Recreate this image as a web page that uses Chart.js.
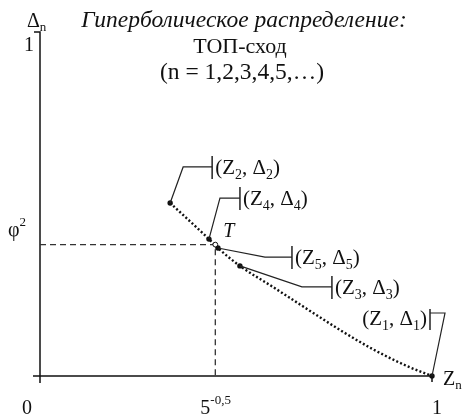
<!DOCTYPE html>
<html>
<head>
<meta charset="utf-8">
<script src="https://cdn.jsdelivr.net/npm/chart.js@4.4.0/dist/chart.umd.min.js"></script>
<style>
  html, body { margin: 0; padding: 0; background: #fff; }
  #wrap { width: 464px; height: 419px; position: relative; }
</style>
</head>
<body>
<div id="wrap"><canvas id="c"></canvas></div>
<script>
// Hyperbolic distribution Δn(Zn): points along the dotted curve
const curveZ     = [0.332, 0.431, 0.454, 0.510, 0.594, 0.681, 0.765, 0.849, 0.936, 1.000];
const curveDelta = [0.503, 0.398, 0.372, 0.320, 0.259, 0.195, 0.134, 0.078, 0.029, 0.000];

// Labelled points (Zn, Δn)
const pointIndex = ['2', '4', '5', '3', '1'];
const pointZ     = [0.332, 0.431, 0.454, 0.510, 1.000];
const pointDelta = [0.503, 0.398, 0.372, 0.320, 0.000];

// Point T: Z = 5^-0.5, Δ = φ²
const phi = (Math.sqrt(5) - 1) / 2;
const markZ = Math.pow(5, -0.5);
const markDelta = phi * phi;

// Axis tick labels
const xTickValues = [0, markZ, 1];
const xTickLabels = ['0', '5^{-0,5}', '1'];
const yTickValues = [1, markDelta];
const yTickLabels = ['1', 'φ^2'];
const xAxisTitle = 'Z_n';
const yAxisTitle = 'Δ_n';

const titleLines = ['Гиперболическое распределение:', 'ТОП-сход', '(n = 1,2,3,4,5,…)'];

// Leader-line layout for each labelled point (pixel offsets from the point)
const calloutLayout = [
  { elbow: [13, -36], bar: 42, side: 'right' },
  { elbow: [11, -41], bar: 31, side: 'right' },
  { elbow: [47, 9],   bar: 74, side: 'right' },
  { elbow: [62, 21],  bar: 92, side: 'right' },
  { elbow: [13, -63], bar: -2, side: 'left' }
];

const FAMILY = '"Liberation Serif", "Times New Roman", serif';
const INK = '#111';

// Parse "a_b" / "a^{bc}" into runs with sub/superscript flags
function parseRich(s) {
  const parts = [];
  let buf = '';
  let i = 0;
  while (i < s.length) {
    const c = s[i];
    if (c === '_' || c === '^') {
      if (buf) { parts.push({ t: buf, k: 0 }); buf = ''; }
      let t;
      if (s[i + 1] === '{') {
        const j = s.indexOf('}', i + 2);
        t = s.slice(i + 2, j);
        i = j + 1;
      } else {
        t = s[i + 1];
        i += 2;
      }
      parts.push({ t, k: c === '_' ? 1 : -1 });
    } else {
      buf += c;
      i++;
    }
  }
  if (buf) parts.push({ t: buf, k: 0 });
  return parts;
}

function drawRich(ctx, s, x, y, size, align, style) {
  const parts = parseRich(s);
  const st = style || '';
  const fontFor = p => `${st} ${p.k ? Math.round(size * 0.65) : size}px ${FAMILY}`;
  let w = 0;
  parts.forEach(p => { ctx.font = fontFor(p); p.w = ctx.measureText(p.t).width; w += p.w; });
  let cx = align === 'center' ? x - w / 2 : align === 'right' ? x - w : x;
  ctx.textAlign = 'left';
  ctx.textBaseline = 'alphabetic';
  ctx.fillStyle = INK;
  parts.forEach(p => {
    ctx.font = fontFor(p);
    const dy = p.k === 1 ? size * 0.22 : p.k === -1 ? -size * 0.5 : 0;
    ctx.fillText(p.t, cx, y + dy);
    cx += p.w;
  });
}

const axesPlugin = {
  id: 'axesPlugin',
  beforeDatasetsDraw(chart) {
    const { ctx, scales: { x, y } } = chart;
    const x0 = x.getPixelForValue(0), x1 = x.getPixelForValue(1);
    const y0 = y.getPixelForValue(0), y1 = y.getPixelForValue(1);
    ctx.save();
    ctx.strokeStyle = INK;
    ctx.lineWidth = 1.5;
    ctx.beginPath();
    // vertical axis with a small cap at Δ = 1
    ctx.moveTo(x0 - 6, y1); ctx.lineTo(x0, y1); ctx.lineTo(x0, y0 + 7);
    // horizontal axis with a tick at Z = 1
    ctx.moveTo(x0 - 7, y0); ctx.lineTo(x1, y0); ctx.lineTo(x1, y0 + 6);
    ctx.stroke();
    ctx.restore();
  },
  afterDatasetsDraw(chart) {
    const { ctx, scales: { x, y } } = chart;
    ctx.save();
    const x0 = x.getPixelForValue(0), y0 = y.getPixelForValue(0);

    // Title block
    drawRich(ctx, titleLines[0], 244, 27, 23.5, 'center', 'italic');
    drawRich(ctx, titleLines[1], 240, 53, 22, 'center');
    drawRich(ctx, titleLines[2], 242, 79, 23.5, 'center');

    // Axis titles
    drawRich(ctx, yAxisTitle, x0 - 13, 27, 20, 'left');
    drawRich(ctx, xAxisTitle, x.getPixelForValue(1) + 11, y0 + 9, 20, 'left');

    // X tick labels
    xTickValues.forEach((v, i) => {
      let px = x.getPixelForValue(v);
      if (i === 0) px -= 13;
      if (i === 2) px += 5;
      const align = i === 1 ? 'left' : 'center';
      drawRich(ctx, xTickLabels[i], i === 1 ? px - 15 : px, y0 + 38, 20, align);
    });

    // Y tick labels
    drawRich(ctx, yTickLabels[0], x0 - 11, y.getPixelForValue(yTickValues[0]) + 19, 20, 'center');
    drawRich(ctx, yTickLabels[1], x0 - 32, y.getPixelForValue(yTickValues[1]) - 9, 20, 'left');

    // T label
    drawRich(ctx, 'T', x.getPixelForValue(markZ) + 8, y.getPixelForValue(markDelta) - 8, 20, 'left', 'italic');

    // Leader lines and point labels
    ctx.strokeStyle = '#222';
    pointIndex.forEach((n, i) => {
      const L = calloutLayout[i];
      const px = x.getPixelForValue(pointZ[i]);
      const py = y.getPixelForValue(pointDelta[i]);
      const ex = px + L.elbow[0], ey = py + L.elbow[1];
      const bx = px + L.bar;
      ctx.lineWidth = 1.2;
      ctx.beginPath();
      ctx.moveTo(px, py); ctx.lineTo(ex, ey); ctx.lineTo(bx, ey);
      ctx.stroke();
      ctx.lineWidth = 1.5;
      ctx.beginPath();
      if (L.side === 'right') {
        ctx.moveTo(bx, ey - 11); ctx.lineTo(bx, ey + 12);
      } else {
        ctx.moveTo(bx, ey - 4); ctx.lineTo(bx, ey + 17);
      }
      ctx.stroke();
      const text = '(Z_' + n + ', Δ_' + n + ')';
      if (L.side === 'right') {
        drawRich(ctx, text, bx + 3, ey + 7, 21, 'left');
      } else {
        drawRich(ctx, text, bx - 3, ey + 12, 21, 'right');
      }
    });
    ctx.restore();
  }
};

new Chart(document.getElementById('c'), {
  type: 'line',
  data: {
    datasets: [
      {
        label: 'T',
        data: [{ x: markZ, y: markDelta }],
        showLine: false,
        pointRadius: 2.4,
        pointBackgroundColor: '#fff',
        pointBorderColor: INK,
        pointBorderWidth: 1,
        clip: false,
        order: 1
      },
      {
        label: 'points',
        data: pointZ.map((z, i) => ({ x: z, y: pointDelta[i] })),
        showLine: false,
        pointRadius: 2.7,
        pointBackgroundColor: INK,
        pointBorderColor: INK,
        pointBorderWidth: 0,
        clip: false,
        order: 2
      },
      {
        label: 'curve',
        data: curveZ.map((z, i) => ({ x: z, y: curveDelta[i] })),
        borderColor: INK,
        borderWidth: 2.4,
        borderDash: [2, 2.2],
        pointRadius: 0,
        cubicInterpolationMode: 'monotone',
        fill: false,
        clip: false,
        order: 3
      },
      {
        label: 'guides',
        data: [{ x: 0, y: markDelta }, { x: markZ, y: markDelta }, { x: markZ, y: 0 }],
        borderColor: '#333',
        borderWidth: 1.3,
        borderDash: [6, 4],
        pointRadius: 0,
        tension: 0,
        fill: false,
        clip: false,
        order: 4
      }
    ]
  },
  options: {
    responsive: true,
    maintainAspectRatio: false,
    animation: false,
    layout: { padding: { left: 40, right: 32, top: 32, bottom: 43 } },
    scales: {
      x: { type: 'linear', min: 0, max: 1, display: false },
      y: { type: 'linear', min: 0, max: 1, display: false }
    },
    plugins: {
      legend: { display: false },
      tooltip: { enabled: false },
      title: { display: false }
    }
  },
  plugins: [axesPlugin]
});
</script>
</body>
</html>
